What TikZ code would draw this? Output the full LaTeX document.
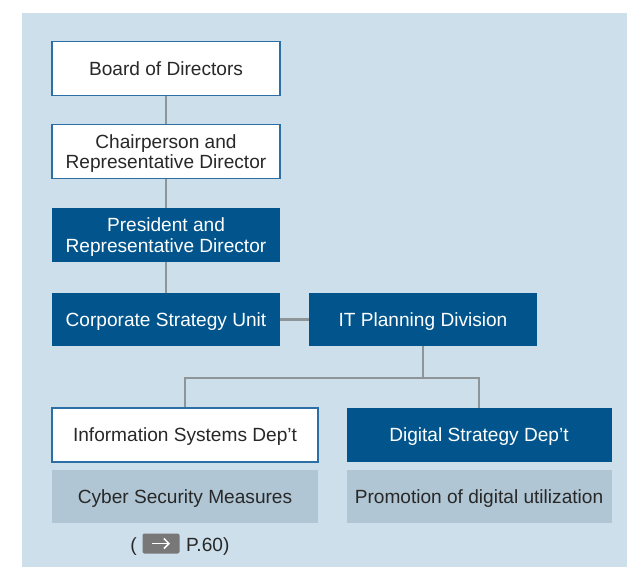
\documentclass[tikz,border=0pt]{standalone}
\usepackage{fontspec}
\setmainfont{Liberation Sans}
\usetikzlibrary{arrows.meta,calc}
\definecolor{bgblue}{RGB}{204,223,234}
\definecolor{darkblue}{RGB}{2,85,140}
\definecolor{edgeblue}{RGB}{44,111,166}
\definecolor{grayblue}{RGB}{176,198,212}
\definecolor{linegray}{RGB}{142,149,153}
\definecolor{txt}{RGB}{40,40,40}
\definecolor{btngray}{RGB}{120,120,120}
\begin{document}
\begin{tikzpicture}[x=1pt,y=-1pt,
  base/.style={rectangle, inner sep=0pt, align=center, text depth=0pt, font=\fontsize{19.1}{20.5}\selectfont},
  whitebox/.style={base, fill=white, draw=edgeblue, line width=1.1pt, text=txt},
  bluebox/.style={base, fill=darkblue, draw=none, text=white},
  graybox/.style={base, fill=grayblue, draw=none, text=txt},
  conn/.style={draw=linegray, line width=2.2pt}
]
\useasboundingbox (0,0) rectangle (627,567);
\fill[white] (0,0) rectangle (627,567);
\fill[bgblue] (22,13) rectangle (627,567);

\node[whitebox, minimum width=228pt, minimum height=54pt] (board) at (166,68.5) {Board of Directors};
\node[whitebox, minimum width=228pt, minimum height=54pt] (chair) at (166,151.5) {Chairperson and\\Representative Director};
\node[bluebox, minimum width=228pt, minimum height=54pt] (pres) at (166,235) {President and\\Representative Director};
\node[bluebox, minimum width=228pt, minimum height=53pt] (corp) at (166,319.5) {Corporate Strategy Unit};
\node[bluebox, minimum width=228pt, minimum height=53pt] (itpd) at (423,319.5) {IT Planning Division};
\node[whitebox, minimum width=266pt, minimum height=54pt] (info) at (185,435) {Information Systems Dep’t};
\node[bluebox, minimum width=265pt, minimum height=54pt] (digi) at (479,435) {Digital Strategy Dep’t};
\node[graybox, minimum width=266pt, minimum height=53pt] (cyber) at (185,496.5) {Cyber Security Measures};
\node[graybox, minimum width=265pt, minimum height=53pt] (promo) at (479,496.5) {Promotion of digital utilization};

\node[base, text=txt, anchor=base east] (lpar) at (137,551) {(};
\node[rectangle, rounded corners=2pt, fill=btngray, minimum width=37pt, minimum height=20pt, inner sep=0pt] (btn) at (161,543.5) {};
\draw[white, line width=1.5pt, -{Straight Barb[length=5pt,width=10pt]}] ($(btn.center)+(-9,0)$) -- ($(btn.center)+(9,0)$);
\node[base, text=txt, anchor=base west] (page) at (186,551) {P.60)};

\draw[conn] (board.south) -- (chair.north);
\draw[conn] (chair.south) -- (pres.north);
\draw[conn] (pres.south) -- (corp.north);
\draw[conn] (corp.east) -- (itpd.west);
\coordinate (junc) at (423,378);
\draw[conn] (itpd.south) -- (junc) -| (info.north);
\draw[conn] (junc) -| (digi.north);
\end{tikzpicture}
\end{document}
